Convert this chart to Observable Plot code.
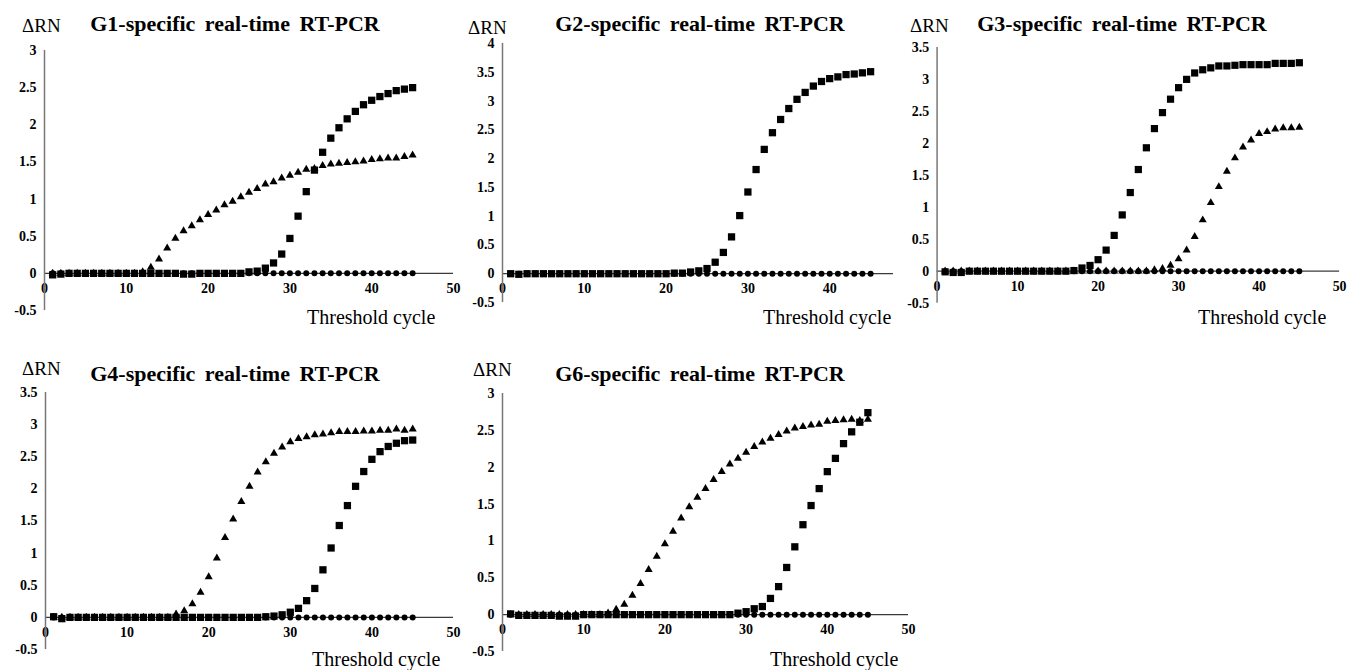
<!DOCTYPE html>
<html><head><meta charset="utf-8">
<script src="https://cdn.jsdelivr.net/npm/d3@7"></script>
<script src="https://cdn.jsdelivr.net/npm/@observablehq/plot@0.6"></script>
<style>
body{margin:0;background:#fff;}
#root{position:relative;width:1351px;height:670px;overflow:hidden;background:#fff;font-family:"Liberation Serif","Tinos","Times New Roman","DejaVu Serif",serif;}
.panel{position:absolute;}
.cover{position:absolute;background:#fff;}
.lbl{position:absolute;white-space:nowrap;line-height:1;color:#000;font-family:"Liberation Serif","Tinos","Times New Roman","DejaVu Serif",serif;}
.title{font-weight:bold;font-size:22px;word-spacing:4px;transform:translate(-50%,-50%);}
.dRN{font-size:19px;transform:translateY(-50%);}
.xlab{font-size:20px;transform:translateY(-50%);}
</style></head><body><div id="root"></div><script>
// ---- data ----
const cycles = [1,2,3,4,5,6,7,8,9,10,11,12,13,14,15,16,17,18,19,20,21,22,23,24,25,26,27,28,29,30,31,32,33,34,35,36,37,38,39,40,41,42,43,44,45];
const xTickLabels = [0,10,20,30,40,50];
const negativeControl = [0,0,0,0,0,0,0,0,0,0,0,0,0,0,0,0,0,0,0,0,0,0,0,0,0,0,0,0,0,0,0,0,0,0,0,0,0,0,0,0,0,0,0,0,0];

const titles = ["G1-specific real-time RT-PCR","G2-specific real-time RT-PCR","G3-specific real-time RT-PCR","G4-specific real-time RT-PCR","G6-specific real-time RT-PCR"];
const yLabel = "ΔRN";
const xLabel = "Threshold cycle";

const g1Squares = [-0.02,-0.01,0,0,0,0,0,0,0,0,0,0,0,0,0,0,-0.01,-0.01,0,0,0,0,0,0,0.02,0.03,0.07,0.14,0.26,0.47,0.77,1.10,1.39,1.63,1.82,1.96,2.08,2.18,2.27,2.33,2.38,2.42,2.46,2.48,2.50];
const g1Triangles = [0,0,0,0,0,0,0,0,0,0,0,0.02,0.08,0.19,0.34,0.47,0.57,0.64,0.72,0.79,0.85,0.92,0.97,1.03,1.09,1.14,1.20,1.23,1.28,1.32,1.36,1.40,1.41,1.45,1.47,1.48,1.49,1.50,1.51,1.53,1.54,1.55,1.55,1.57,1.59];

const g2Squares = [0,-0.01,0,0,0,0,0,0,0,0,0,0,0,0,0,0,0,0,0,0,0.01,0.01,0.03,0.05,0.09,0.20,0.37,0.64,1.01,1.42,1.81,2.16,2.45,2.68,2.87,3.03,3.15,3.26,3.34,3.39,3.42,3.46,3.47,3.49,3.51];

const g3Squares = [-0.01,-0.02,-0.02,0,0,0,0,0,0,0,0,0,0,0,0,0,0.01,0.05,0.09,0.18,0.33,0.56,0.88,1.23,1.59,1.93,2.23,2.48,2.69,2.87,3.00,3.10,3.15,3.18,3.21,3.21,3.22,3.23,3.23,3.23,3.23,3.25,3.25,3.25,3.26];
const g3Triangles = [0,0,0,0,0,0,0,0,0,0,0,0,0,0,0,0,0,0,0,0,0,0,0,0,0,0,0.02,0.04,0.09,0.19,0.33,0.54,0.80,1.07,1.32,1.56,1.77,1.94,2.05,2.15,2.18,2.22,2.24,2.24,2.25];

const g4Squares = [0.01,-0.02,0,0,0,0,0,0,0,0,0,0,0,0,0,0,0,0,0,0,0,0,0,0,0,0,0.01,0.02,0.04,0.08,0.14,0.26,0.45,0.74,1.08,1.43,1.74,2.04,2.27,2.46,2.58,2.66,2.71,2.75,2.76];
const g4Triangles = [0,0,0,0,0,0,0,0,0,0,0,0,0,0,0,0.05,0.10,0.21,0.39,0.63,0.92,1.24,1.53,1.80,2.04,2.26,2.42,2.55,2.65,2.73,2.78,2.81,2.84,2.85,2.87,2.89,2.89,2.89,2.90,2.90,2.91,2.91,2.93,2.91,2.93];

const g6Squares = [0.01,-0.01,-0.01,-0.01,-0.01,-0.01,-0.02,-0.02,-0.02,0,0,0,0,0,0,0,0,0,0,0,0,0,0,0,0,0,0,0,0.02,0.04,0.08,0.11,0.22,0.38,0.64,0.92,1.22,1.48,1.71,1.94,2.12,2.32,2.48,2.61,2.74];
const g6Triangles = [0,0,0,0,0,0,0,0,0,0,0,0,0.02,0.07,0.14,0.26,0.42,0.61,0.79,0.96,1.13,1.31,1.46,1.59,1.71,1.83,1.94,2.04,2.12,2.20,2.28,2.34,2.39,2.44,2.49,2.53,2.55,2.57,2.58,2.62,2.63,2.64,2.65,2.63,2.65];

const yTicks35 = [-0.5,0,0.5,1,1.5,2,2.5,3,3.5];
const yTicks3 = [-0.5,0,0.5,1,1.5,2,2.5,3];
const yTicks4 = [-0.5,0,0.5,1,1.5,2,2.5,3,3.5,4];

// ---- layout (positions only) ----
const FONT = "'Liberation Serif','Tinos','Times New Roman','DejaVu Serif',serif";
const M = {l: 50, r: 12, t: 12, b: 28};
const panels = [
  {title: titles[0], sq: g1Squares, tri: g1Triangles, yTicks: yTicks3, x0: 44, x50: 453, yTop: 50, yBot: 310,
   dRN: [22, 25], tC: [235, 24], xl: [307, 317]},
  {title: titles[1], sq: g2Squares, tri: null, yTicks: yTicks4, x0: 502, x50: 911, yTop: 43, yBot: 302,
   dRN: [468, 27], tC: [700, 24], xl: [763, 317]},
  {title: titles[2], sq: g3Squares, tri: g3Triangles, yTicks: yTicks35, x0: 937, x50: 1343, yTop: 47, yBot: 305,
   dRN: [910, 25], tC: [1122, 24], xl: [1198, 317], cover: [893, 0, 458, 330]},
  {title: titles[3], sq: g4Squares, tri: g4Triangles, yTicks: yTicks35, x0: 45, x50: 453, yTop: 392, yBot: 649,
   dRN: [22, 368], tC: [235, 374], xl: [312, 659]},
  {title: titles[4], sq: g6Squares, tri: g6Triangles, yTicks: yTicks3, x0: 502, x50: 908, yTop: 393, yBot: 651,
   dRN: [473, 369], tC: [700, 374], xl: [770, 659]}
];

const root = document.getElementById("root");
function addLabel(cls, text, x, y) {
  const d = document.createElement("div");
  d.className = "lbl " + cls;
  d.textContent = text;
  d.style.left = x + "px";
  d.style.top = y + "px";
  root.appendChild(d);
}

for (const p of panels) {
  if (p.cover) {
    const c = document.createElement("div");
    c.className = "cover";
    c.style.left = p.cover[0] + "px"; c.style.top = p.cover[1] + "px";
    c.style.width = p.cover[2] + "px"; c.style.height = p.cover[3] + "px";
    root.appendChild(c);
  }
  const ymax = p.yTicks[p.yTicks.length - 1];
  const width = M.l + (p.x50 - p.x0) + M.r;
  const height = M.t + (p.yBot - p.yTop) + M.b;
  const neg = cycles.map((c, i) => ({x: c, y: negativeControl[i]}));
  const sq = cycles.map((c, i) => ({x: c, y: p.sq[i]}));
  const tri = p.tri ? cycles.map((c, i) => ({x: c, y: p.tri[i]})) : [];
  const chart = Plot.plot({
    width, height,
    marginLeft: M.l, marginRight: M.r, marginTop: M.t, marginBottom: M.b,
    x: {domain: [0, 50], axis: null},
    y: {domain: [-0.5, ymax], axis: null},
    style: {background: "transparent", fontFamily: FONT, overflow: "visible", color: "#000"},
    marks: [
      Plot.axisY(p.yTicks, {tickSize: 0, tickPadding: 8, tickFormat: d => String(d), label: null,
        fontSize: 14, fontWeight: "bold", fill: "#000", fontFamily: FONT}),
      Plot.text(xTickLabels, {x: d => d, y: () => 0, dy: 15, text: d => String(d),
        fontSize: 14, fontWeight: "bold", fill: "#000", fontFamily: FONT}),
      Plot.ruleY([0], {x1: 0, x2: 50, stroke: "#3a3a3a", strokeWidth: 1.2}),
      Plot.ruleX([0], {y1: -0.5, y2: ymax, stroke: "#777", strokeWidth: 1.5}),
      Plot.dot(neg, {x: "x", y: "y", symbol: "circle", r: 3, fill: "#000", stroke: "none"}),
      Plot.dot(sq, {x: "x", y: "y", symbol: "square", r: 4.1, fill: "#000", stroke: "none"}),
      Plot.dot(tri, {x: "x", y: "y", symbol: "triangle", r: 3, fill: "#000", stroke: "none"})
    ]
  });
  const wrap = document.createElement("div");
  wrap.className = "panel";
  wrap.style.left = (p.x0 - M.l) + "px";
  wrap.style.top = (p.yTop - M.t) + "px";
  wrap.appendChild(chart);
  root.appendChild(wrap);
  addLabel("dRN", yLabel, p.dRN[0], p.dRN[1]);
  addLabel("title", p.title, p.tC[0], p.tC[1]);
  addLabel("xlab", xLabel, p.xl[0], p.xl[1]);
}
</script></body></html>
